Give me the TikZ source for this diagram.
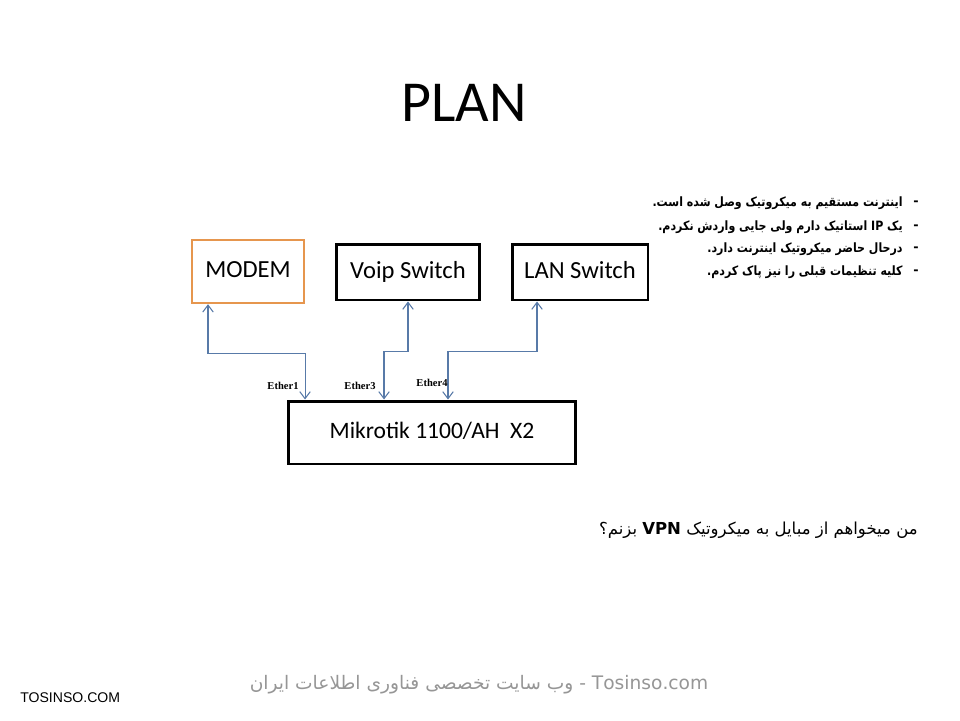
\documentclass[tikz,border=0pt]{standalone}
\usepackage{fontspec}
\setmainfont{Carlito}
\newfontfamily\farsifont[Script=Arabic]{DejaVu Sans}
\newfontfamily\etherfont{Liberation Serif}
\newfontfamily\markfont{Liberation Sans}
\TeXXeTstate=1
\usetikzlibrary{arrows.meta}
\definecolor{modemorange}{RGB}{230,150,78}
\definecolor{linkblue}{RGB}{88,122,168}
\definecolor{markgray}{RGB}{150,150,150}
\newcommand{\narrow}[1]{\scalebox{0.86}[1]{#1}}

\begin{document}
\begin{tikzpicture}[x=0.02cm,y=-0.02cm,
  box/.style={draw, line width=1.7pt, inner sep=0pt, minimum height=1.12cm, text height=9.5pt, text depth=2.5pt, font=\fontsize{14}{16}\selectfont},
  link/.style={draw=linkblue, line width=0.6pt, {Straight Barb[length=4pt,width=6pt]}-{Straight Barb[length=4pt,width=6pt]}},
  port/.style={font=\etherfont\bfseries\fontsize{6}{7}\selectfont},
  note/.style={anchor=east, inner sep=0pt, font=\farsifont\bfseries\fontsize{7.3}{9}\selectfont}
]
\useasboundingbox[fill=white] (0,0) rectangle (960,720);

% title
\node (title) at (464,103) {\fontsize{33}{36}\selectfont PLAN};

% devices
\node[box, draw=modemorange, line width=1.4pt, minimum width=2.24cm, minimum height=1.26cm] (modem) at (248,271.5) {MODEM};
\node[box, minimum width=2.88cm] (voip) at (408,272) {Voip Switch};
\node[box, minimum width=2.72cm] (lan) at (580,272) {LAN Switch};
\node[box, minimum width=5.76cm, minimum height=1.26cm, font=\fontsize{13.4}{16}\selectfont] (mik) at (432,432.5) {Mikrotik 1100/AH\ \ X2};

% links
\draw[link] ([xshift=-0.8cm]modem.south) -- ++(0,49) -| ([xshift=-2.54cm]mik.north);
\draw[link] (voip.south) -- ++(0,50) -| ([xshift=-0.96cm]mik.north);
\draw[link] ([xshift=-0.86cm]lan.south) -- ++(0,50) -| ([xshift=0.32cm]mik.north);

\node[port] (e1) at (283,386) {Ether1};
\node[port] (e3) at (360,386) {Ether3};
\node[port] (e4) at (432,383) {Ether4};

% notes
\node[note] (n1) at (903,203) {\narrow{\beginR اینترنت مستقیم به میکروتیک وصل شده است.\endR}};
\node[note] (n2) at (903,227) {\narrow{\beginR یک \beginL IP\endL{} استاتیک دارم ولی جایی واردش نکردم.\endR}};
\node[note] (n3) at (903,249) {\narrow{\beginR درحال حاضر میکروتیک اینترنت دارد.\endR}};
\node[note] (n4) at (903,272) {\narrow{\beginR کلیه تنظیمات قبلی را نیز پاک کردم.\endR}};
\foreach \y in {203,227,249,272}
  \node[note] at (919,\y) {-};

\node[note, font=\farsifont\fontsize{9.4}{11}\selectfont] (ask) at (918,530) {\beginR من میخواهم از مبایل به میکروتیک \beginL{\bfseries VPN}\endL{} بزنم؟\endR};

% watermark
\node[text=markgray, font=\farsifont\fontsize{10.6}{13}\selectfont] (wm) at (479,685) {\beginR\beginL Tosinso.com\endL{} - وب سایت تخصصی فناوری اطلاعات ایران\endR};
\node[anchor=west, inner sep=0pt, font=\markfont\fontsize{8}{9}\selectfont] (site) at (20,698) {TOSINSO.COM};
\end{tikzpicture}
\end{document}
